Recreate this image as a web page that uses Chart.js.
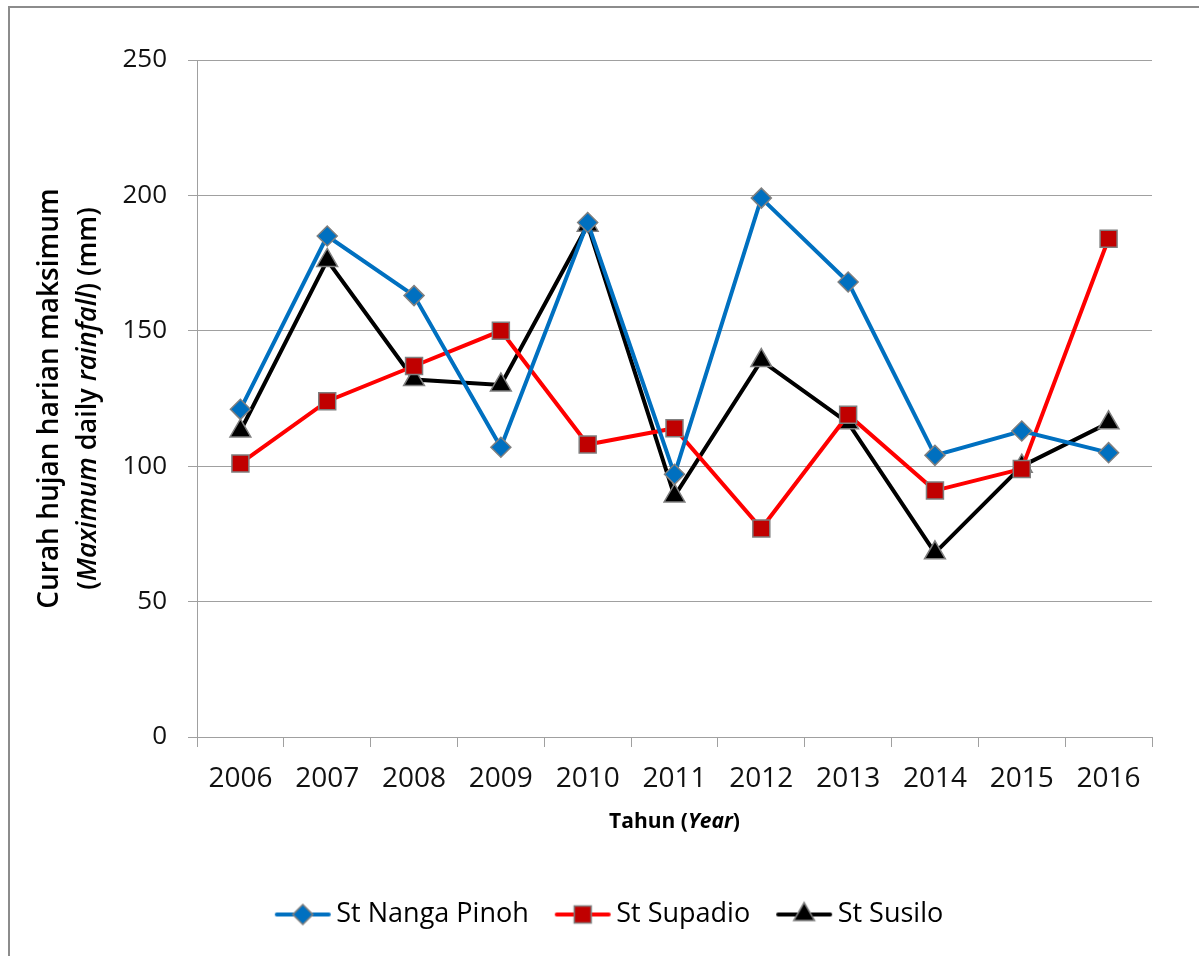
<!DOCTYPE html>
<html>
<head>
<meta charset="utf-8">
<script src="https://cdn.jsdelivr.net/npm/chart.js@4.4.1/dist/chart.umd.min.js"></script>
<style>
    html, body { margin: 0; padding: 0; background: #fff; }
    #wrap { width: 1199px; height: 956px; }
</style>
</head>
<body>
<div id="wrap"><canvas id="rainChart" width="1199" height="956"></canvas></div>
<script>
const years = ['2006', '2007', '2008', '2009', '2010', '2011', '2012', '2013', '2014', '2015', '2016'];
const nangaPinoh = [121, 185, 163, 107, 190, 97, 199, 168, 104, 113, 105];
const supadio = [101, 124, 137, 150, 108, 114, 77, 119, 91, 99, 184];
const susilo = [113, 176, 132, 130, 189, 89, 139, 116, 68, 100, 116];
const yTicks = [0, 50, 100, 150, 200, 250];

const seriesNames = ['St Nanga Pinoh', 'St Supadio', 'St Susilo'];
const lineColors = ['#0070C0', '#FF0000', '#000000'];
const markerFills = ['#0070C0', '#C00000', '#000000'];
const markerStyles = ['rectRot', 'rect', 'triangle'];
const markerSizes = [10, 12, 12];

const FONT = '"Open Sans", "DejaVu Sans", sans-serif';

// legend symbol: a short line with the marker on it
function legendSymbol(i) {
    const c = document.createElement('canvas');
    c.width = 58;
    c.height = 30;
    const ctx = c.getContext('2d');
    ctx.strokeStyle = lineColors[i];
    ctx.lineWidth = 4;
    ctx.lineCap = 'round';
    ctx.beginPath();
    ctx.moveTo(3, 15);
    ctx.lineTo(55, 15);
    ctx.stroke();
    ctx.fillStyle = markerFills[i];
    ctx.strokeStyle = '#7f7f7f';
    ctx.lineWidth = 1.5;
    Chart.helpers.drawPoint(ctx, { pointStyle: markerStyles[i], radius: markerSizes[i], borderWidth: 1.5 }, 29, 15);
    return c;
}

// draws text made of regular / italic pieces, centred on x
function drawRich(ctx, parts, x, y, size, weight) {
    let total = 0;
    parts.forEach(p => {
        ctx.font = (p.italic ? 'italic ' : '') + weight + ' ' + size + 'px ' + FONT;
        p.w = ctx.measureText(p.text).width;
        total += p.w;
    });
    let cx = x - total / 2;
    ctx.textAlign = 'left';
    ctx.textBaseline = 'middle';
    ctx.fillStyle = '#000';
    parts.forEach(p => {
        ctx.font = (p.italic ? 'italic ' : '') + weight + ' ' + size + 'px ' + FONT;
        ctx.fillText(p.text, cx, y);
        cx += p.w;
    });
}

const decorPlugin = {
    id: 'decor',
    beforeDraw(chart) {
        const ctx = chart.ctx;
        ctx.save();
        ctx.fillStyle = '#fff';
        ctx.fillRect(0, 0, chart.width, chart.height);
        ctx.strokeStyle = '#8c8c8c';
        ctx.lineWidth = 2;
        ctx.beginPath();
        ctx.moveTo(9, chart.height);
        ctx.lineTo(9, 7);
        ctx.lineTo(chart.width, 7);
        ctx.stroke();
        ctx.restore();
    },
    afterDraw(chart) {
        const ctx = chart.ctx;
        const area = chart.chartArea;
        const midY = (area.top + area.bottom) / 2;
        ctx.save();
        ctx.translate(50, midY);
        ctx.rotate(-Math.PI / 2);
        drawRich(ctx, [{ text: 'Curah hujan harian maksimum' }], 0, 0, 28, '600');
        drawRich(ctx, [
            { text: '(' },
            { text: 'Maximum', italic: true },
            { text: ' daily ' },
            { text: 'rainfall', italic: true },
            { text: ') (mm)' }
        ], 0, 38, 27, '600');
        ctx.restore();
        ctx.save();
        drawRich(ctx, [
            { text: 'Tahun (' },
            { text: 'Year', italic: true },
            { text: ')' }
        ], (area.left + area.right) / 2, 822, 21, 'bold');
        ctx.restore();
    }
};

const datasets = [nangaPinoh, supadio, susilo].map((values, i) => ({
    label: seriesNames[i],
    data: values,
    borderColor: lineColors[i],
    backgroundColor: markerFills[i],
    borderWidth: 4,
    tension: 0,
    pointStyle: markerStyles[i],
    pointRadius: markerSizes[i],
    pointHoverRadius: markerSizes[i],
    pointBackgroundColor: markerFills[i],
    pointBorderColor: '#7f7f7f',
    pointBorderWidth: 1.5
}));
const symbols = [0, 1, 2].map(legendSymbol);

new Chart(document.getElementById('rainChart'), {
    type: 'line',
    data: { labels: years, datasets: datasets },
    options: {
        responsive: false,
        animation: false,
        devicePixelRatio: 1,
        layout: { padding: { left: 74, right: 47, top: 60, bottom: 18 } },
        plugins: {
            tooltip: { enabled: false },
            legend: {
                position: 'bottom',
                labels: {
                    usePointStyle: true,
                    pointStyleWidth: 40,
                    padding: 34,
                    color: '#000',
                    font: { family: FONT, size: 27 },
                    generateLabels(chart) {
                        return chart.data.datasets.map((ds, i) => ({
                            text: ds.label,
                            pointStyle: symbols[i],
                            fillStyle: ds.backgroundColor,
                            strokeStyle: ds.borderColor,
                            lineWidth: 0,
                            datasetIndex: i
                        }));
                    }
                }
            }
        },
        scales: {
            x: {
                offset: true,
                grid: {
                    offset: true,
                    drawOnChartArea: false,
                    drawTicks: true,
                    tickLength: 10,
                    color: '#a0a0a0'
                },
                border: { color: '#a0a0a0', width: 1 },
                ticks: {
                    color: '#111',
                    padding: 15,
                    maxRotation: 0,
                    font: { family: FONT, size: 28 }
                },
                afterFit(scale) { scale.height = 130; }
            },
            y: {
                min: 0,
                max: 250,
                afterBuildTicks(scale) { scale.ticks = yTicks.map(v => ({ value: v })); },
                grid: { color: '#a0a0a0', tickLength: 9 },
                border: { color: '#a0a0a0', width: 1 },
                ticks: {
                    color: '#111',
                    padding: 21,
                    font: { family: FONT, size: 26 }
                },
                afterFit(scale) { scale.width = 123; }
            }
        }
    },
    plugins: [decorPlugin]
});
</script>
</body>
</html>
